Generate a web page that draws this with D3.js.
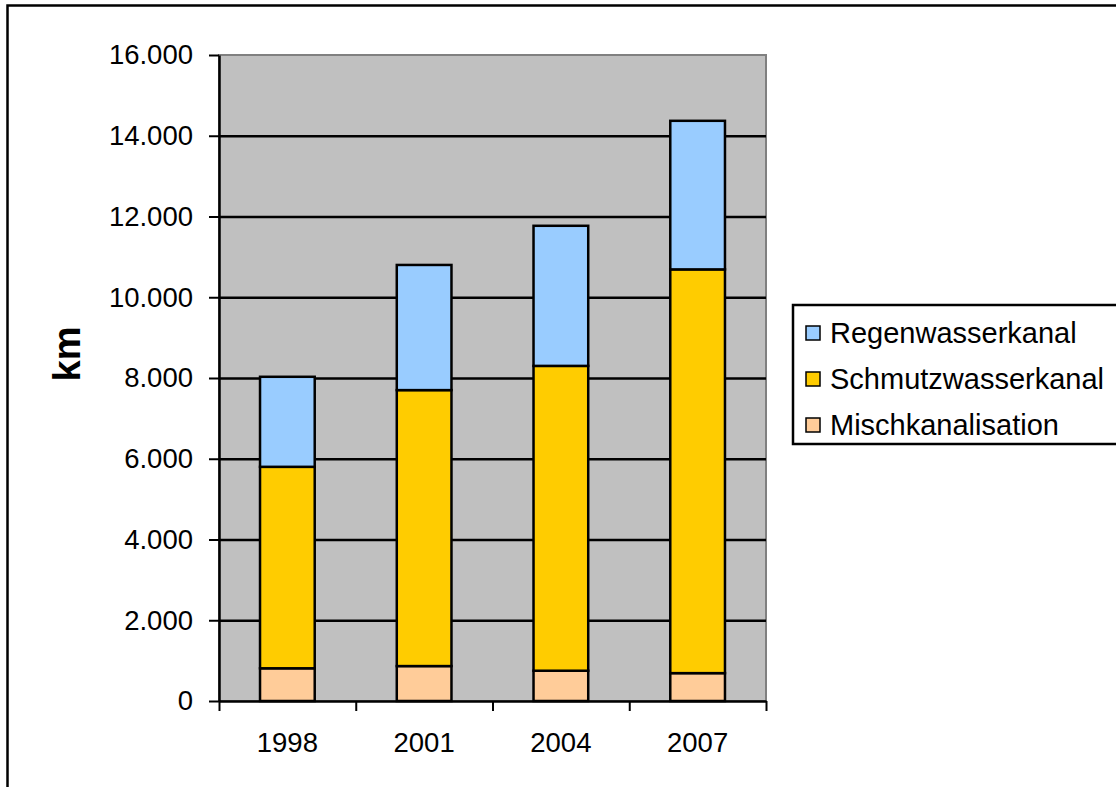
<!DOCTYPE html>
<html><head><meta charset="utf-8">
<script src="https://cdn.jsdelivr.net/npm/d3@7/dist/d3.min.js"></script>
<style>
html,body{margin:0;padding:0;background:#fff;}
svg text{font-family:"Liberation Sans",Arial,sans-serif;}
</style></head>
<body><svg id="c" width="1116" height="787"></svg>
<script>
const years = ["1998","2001","2004","2007"];
const misch = [810, 865, 750, 690];
const schmutz = [4990, 6835, 7550, 10000];
const regen = [2230, 3100, 3470, 3680];
const seriesNames = ["Mischkanalisation","Schmutzwasserkanal","Regenwasserkanal"];
const seriesColors = ["#FFCC99","#FFCC00","#99CCFF"];
const yTicks = [0,2000,4000,6000,8000,10000,12000,14000,16000];
const yLabel = "km";

const svg = d3.select("#c");
const L = 219, R = 766, T = 55, B = 701;

// outer chart border
svg.append("rect").attr("x",7.5).attr("y",5.5).attr("width",1130).attr("height",800)
  .attr("fill","#fff").attr("stroke","#000").attr("stroke-width",2.5);

const table = years.map((y,i)=>({year:y, Mischkanalisation:misch[i], Schmutzwasserkanal:schmutz[i], Regenwasserkanal:regen[i]}));
const stack = d3.stack().keys(seriesNames)(table);

const y = d3.scaleLinear().domain([0,16000]).range([B,T]);
const xb = d3.scaleBand().domain(years).range([L,R]).padding(0);
const barW = xb.bandwidth()*0.4;

// plot area
svg.append("rect").attr("x",L).attr("y",T).attr("width",R-L).attr("height",B-T)
  .attr("fill","#C0C0C0").attr("stroke","#808080").attr("stroke-width",2);

// gridlines
svg.append("g").attr("transform",`translate(${L},0)`)
  .call(d3.axisLeft(y).tickValues(yTicks.filter(v=>v>0&&v<16000)).tickSize(-(R-L)).tickFormat(""))
  .call(g=>g.select(".domain").remove())
  .call(g=>g.selectAll("line").attr("stroke","#000").attr("stroke-width",2.5));

// bars
const fmt = v => d3.format(",")(v).replace(/,/g,".");
svg.append("g").selectAll("g").data(stack).join("g")
  .attr("fill",(d,i)=>seriesColors[i])
  .selectAll("rect").data(d=>d).join("rect")
  .attr("x",d=>xb(d.data.year)+xb.bandwidth()/2-barW/2)
  .attr("width",barW)
  .attr("y",d=>y(d[1]))
  .attr("height",d=>y(d[0])-y(d[1]))
  .attr("stroke","#000").attr("stroke-width",2.5);

// y axis
const ya = svg.append("g").attr("transform",`translate(${L},0)`)
  .call(d3.axisLeft(y).tickValues(yTicks).tickSize(10).tickSizeOuter(0).tickPadding(16).tickFormat(fmt));
ya.select(".domain").attr("stroke","#000").attr("stroke-width",2.5);
ya.selectAll(".tick line").attr("stroke","#000").attr("stroke-width",2);
ya.selectAll(".tick text").attr("font-size",27.5).attr("fill","#000")
  .attr("font-family","'Liberation Sans',Arial,sans-serif");

// x axis: boundary ticks
const xl = d3.scaleLinear().domain([0,years.length]).range([L,R]);
const xa = svg.append("g").attr("transform",`translate(0,${B})`)
  .call(d3.axisBottom(xl).tickValues(d3.range(years.length+1)).tickSize(10).tickSizeOuter(0).tickFormat(""));
xa.select(".domain").attr("stroke","#000").attr("stroke-width",2.5);
xa.selectAll(".tick line").attr("stroke","#000").attr("stroke-width",2);

// x labels
const xlab = svg.append("g").attr("transform",`translate(0,${B})`)
  .call(d3.axisBottom(xb).tickSize(0).tickPadding(31));
xlab.select(".domain").remove();
xlab.selectAll(".tick text").attr("font-size",27.5).attr("fill","#000")
  .attr("font-family","'Liberation Sans',Arial,sans-serif");

// y title
svg.append("text").attr("transform","translate(80,354) rotate(-90)")
  .attr("text-anchor","middle").attr("font-size",38).attr("font-weight","bold").text(yLabel);

// legend
const lg = svg.append("g");
lg.append("rect").attr("x",793).attr("y",305).attr("width",340).attr("height",139)
  .attr("fill","#fff").attr("stroke","#000").attr("stroke-width",2.5);
const legOrder = [2,1,0];
legOrder.forEach((si,k)=>{
  const cy = 333 + k*46;
  lg.append("rect").attr("x",806).attr("y",cy-7).attr("width",14).attr("height",14)
    .attr("fill",seriesColors[si]).attr("stroke","#000").attr("stroke-width",1.5);
  lg.append("text").attr("x",830).attr("y",cy).attr("dy","0.36em")
    .attr("font-size",29).text(seriesNames[si]);
});
</script></body></html>
